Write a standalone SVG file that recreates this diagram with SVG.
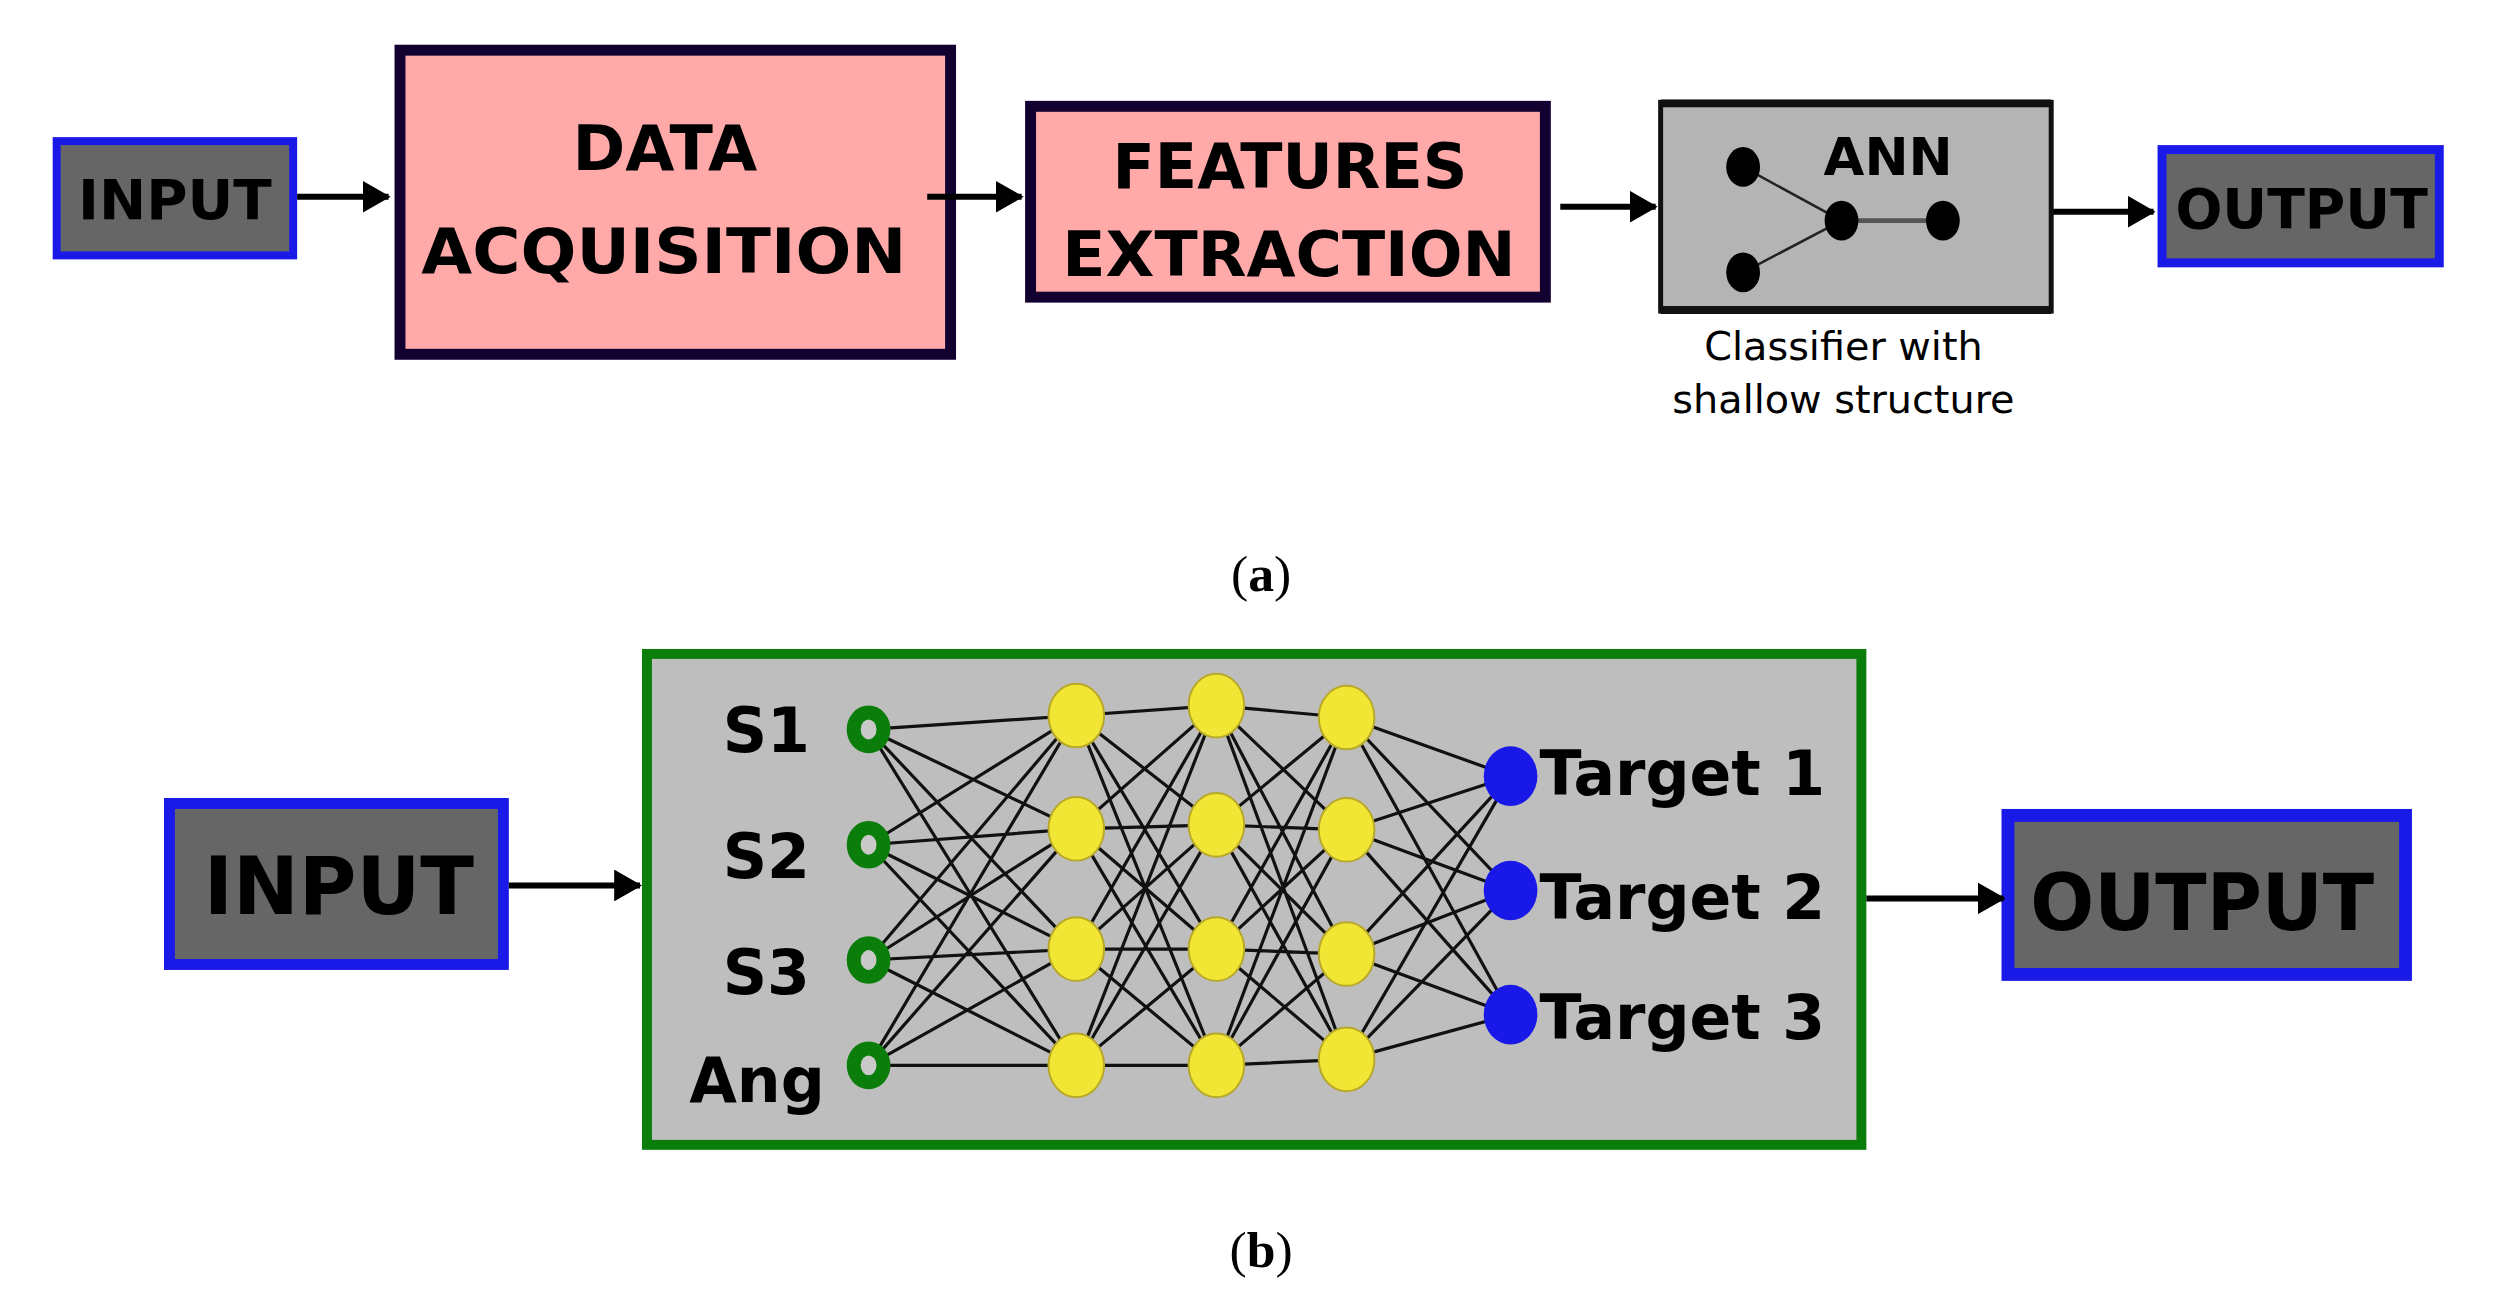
<svg xmlns="http://www.w3.org/2000/svg" width="2496" height="1296" viewBox="0 0 2496 1296">
<defs>
<marker id="ah" markerUnits="userSpaceOnUse" markerWidth="28" markerHeight="32" refX="26" refY="16" orient="auto">
<path d="M0,0 L28,16 L0,32 Z" fill="#000"/>
</marker>
<style>
.io{fill:#666666;stroke:#1a1ae8}
.pink{fill:#ffa9a9;stroke:#120030;stroke-width:11}
.bt{font-family:"DejaVu Sans",Verdana,sans-serif;font-weight:bold;fill:#000}
.nt{font-family:"DejaVu Sans",Verdana,sans-serif;fill:#000}
.cap{font-family:"Liberation Serif",serif;font-size:52px;fill:#000}
.arr{stroke:#000;stroke-width:6;fill:none;marker-end:url(#ah)}
.nn{stroke:#111;stroke-width:3.2;fill:none}
.yel{fill:#f2e634;stroke:#b8a82a;stroke-width:2}
.grn{fill:#c9c9c9;stroke:#0b7d0b;stroke-width:14}
.blu{fill:#1818e8}
</style>
</defs>
<rect width="2496" height="1296" fill="#fff"/>
<g transform="scale(0.9938)">
<!-- (a) row -->
<g id="input-a">
<rect class="io" x="57" y="142" width="238" height="115" stroke-width="8"/>
<text class="bt" x="176" y="220" font-size="56" text-anchor="middle" textLength="195" lengthAdjust="spacingAndGlyphs">INPUT</text>
</g>
<g id="data-acquisition">
<rect class="pink" x="402.5" y="50.5" width="554" height="306"/>
<text class="bt" x="669" y="171" font-size="62" text-anchor="middle" textLength="186" lengthAdjust="spacingAndGlyphs">DATA</text>
<text class="bt" x="668" y="275" font-size="62" text-anchor="middle" textLength="488" lengthAdjust="spacingAndGlyphs">ACQUISITION</text>
</g>
<g id="features-extraction">
<rect class="pink" x="1037" y="107" width="518" height="192" stroke-width="10"/>
<text class="bt" x="1298" y="189" font-size="62" text-anchor="middle" textLength="357" lengthAdjust="spacingAndGlyphs">FEATURES</text>
<text class="bt" x="1297" y="278" font-size="62" text-anchor="middle" textLength="456" lengthAdjust="spacingAndGlyphs">EXTRACTION</text>
</g>
<g id="ann">
<rect x="1671" y="103" width="393" height="210" fill="#b4b4b4" stroke="#111" stroke-width="5"/>
<line x1="1671" y1="104" x2="2064" y2="104" stroke="#111" stroke-width="8"/>
<line x1="1671" y1="312" x2="2064" y2="312" stroke="#111" stroke-width="8"/>
<text class="bt" x="1900" y="176" font-size="52" text-anchor="middle" textLength="130" lengthAdjust="spacingAndGlyphs">ANN</text>
<line x1="1754" y1="168" x2="1853" y2="222" stroke="#222" stroke-width="2.5"/>
<line x1="1754" y1="274" x2="1853" y2="222" stroke="#222" stroke-width="2.5"/>
<line x1="1853" y1="222" x2="1955" y2="222" stroke="#555" stroke-width="5"/>
<ellipse cx="1754" cy="168" rx="17" ry="20" fill="#000"/>
<ellipse cx="1754" cy="274" rx="17" ry="20" fill="#000"/>
<ellipse cx="1853" cy="222" rx="17" ry="20" fill="#000"/>
<ellipse cx="1955" cy="222" rx="17" ry="20" fill="#000"/>
<text class="nt" x="1855" y="362" font-size="40" text-anchor="middle">Classifier with</text>
<text class="nt" x="1855" y="416" font-size="40" text-anchor="middle">shallow structure</text>
</g>
<g id="output-a">
<rect class="io" x="2175.5" y="150.5" width="279" height="114" stroke-width="9"/>
<text class="bt" x="2316" y="229" font-size="56" text-anchor="middle" textLength="254" lengthAdjust="spacingAndGlyphs">OUTPUT</text>
</g>
<text class="cap" x="1269" y="595" text-anchor="middle">(<tspan font-weight="bold">a</tspan>)</text>

<!-- (b) row -->
<g id="input-b">
<rect class="io" x="170.5" y="808.5" width="336" height="162" stroke-width="11"/>
<text class="bt" x="341" y="920" font-size="80" text-anchor="middle" textLength="272" lengthAdjust="spacingAndGlyphs">INPUT</text>
</g>
<g id="network">
<rect x="651" y="658" width="1222" height="494" fill="#bebebe" stroke="#0a7d0a" stroke-width="10"/>
<g class="nn">
<path d="M874 734L1083 720M874 734L1083 834M874 734L1083 955M874 734L1083 1072M874 850L1083 720M874 850L1083 834M874 850L1083 955M874 850L1083 1072M874 966L1083 720M874 966L1083 834M874 966L1083 955M874 966L1083 1072M874 1072L1083 720M874 1072L1083 834M874 1072L1083 955M874 1072L1083 1072"/>
<path d="M1083 720L1224 710M1083 720L1224 830M1083 720L1224 955M1083 720L1224 1072M1083 834L1224 710M1083 834L1224 830M1083 834L1224 955M1083 834L1224 1072M1083 955L1224 710M1083 955L1224 830M1083 955L1224 955M1083 955L1224 1072M1083 1072L1224 710M1083 1072L1224 830M1083 1072L1224 955M1083 1072L1224 1072"/>
<path d="M1224 710L1355 722M1224 710L1355 835M1224 710L1355 960M1224 710L1355 1066M1224 830L1355 722M1224 830L1355 835M1224 830L1355 960M1224 830L1355 1066M1224 955L1355 722M1224 955L1355 835M1224 955L1355 960M1224 955L1355 1066M1224 1072L1355 722M1224 1072L1355 835M1224 1072L1355 960M1224 1072L1355 1066"/>
<path d="M1355 722L1520 781M1355 722L1520 896M1355 722L1520 1021M1355 835L1520 781M1355 835L1520 896M1355 835L1520 1021M1355 960L1520 781M1355 960L1520 896M1355 960L1520 1021M1355 1066L1520 781M1355 1066L1520 896M1355 1066L1520 1021"/>
</g>
<g id="inputs">
<ellipse class="grn" cx="874" cy="734" rx="15" ry="17"/>
<ellipse class="grn" cx="874" cy="850" rx="15" ry="17"/>
<ellipse class="grn" cx="874" cy="966" rx="15" ry="17"/>
<ellipse class="grn" cx="874" cy="1072" rx="15" ry="17"/>
<text class="bt" x="815" y="757" font-size="62" text-anchor="end">S1</text>
<text class="bt" x="815" y="883" font-size="62" text-anchor="end">S2</text>
<text class="bt" x="815" y="1000" font-size="62" text-anchor="end">S3</text>
<text class="bt" x="830" y="1109" font-size="62" text-anchor="end">Ang</text>
</g>
<g id="hidden1">
<ellipse class="yel" cx="1083" cy="720" rx="28" ry="32"/>
<ellipse class="yel" cx="1083" cy="834" rx="28" ry="32"/>
<ellipse class="yel" cx="1083" cy="955" rx="28" ry="32"/>
<ellipse class="yel" cx="1083" cy="1072" rx="28" ry="32"/>
</g>
<g id="hidden2">
<ellipse class="yel" cx="1224" cy="710" rx="28" ry="32"/>
<ellipse class="yel" cx="1224" cy="830" rx="28" ry="32"/>
<ellipse class="yel" cx="1224" cy="955" rx="28" ry="32"/>
<ellipse class="yel" cx="1224" cy="1072" rx="28" ry="32"/>
</g>
<g id="hidden3">
<ellipse class="yel" cx="1355" cy="722" rx="28" ry="32"/>
<ellipse class="yel" cx="1355" cy="835" rx="28" ry="32"/>
<ellipse class="yel" cx="1355" cy="960" rx="28" ry="32"/>
<ellipse class="yel" cx="1355" cy="1066" rx="28" ry="32"/>
</g>
<g id="outputs">
<ellipse class="blu" cx="1520" cy="781" rx="27" ry="30"/>
<ellipse class="blu" cx="1520" cy="896" rx="27" ry="30"/>
<ellipse class="blu" cx="1520" cy="1021" rx="27" ry="30"/>
<text class="bt" x="1549" y="800" font-size="62">Target 1</text>
<text class="bt" x="1549" y="925" font-size="62">Target 2</text>
<text class="bt" x="1549" y="1045" font-size="62">Target 3</text>
</g>
</g>
<g id="output-b">
<rect class="io" x="2020.5" y="820.5" width="400" height="160" stroke-width="13"/>
<text class="bt" x="2216" y="936" font-size="78" text-anchor="middle" textLength="346" lengthAdjust="spacingAndGlyphs">OUTPUT</text>
</g>
<text class="cap" x="1269" y="1275" text-anchor="middle">(<tspan font-weight="bold">b</tspan>)</text>

<g id="connectors">
<line class="arr" x1="299" y1="198" x2="391" y2="198"/>
<line class="arr" x1="933" y1="198" x2="1028" y2="198"/>
<line class="arr" x1="1570" y1="208" x2="1666" y2="208"/>
<line class="arr" x1="2066" y1="213" x2="2167" y2="213"/>
<line class="arr" x1="512" y1="891" x2="644" y2="891"/>
<line class="arr" x1="1878" y1="904" x2="2016" y2="904"/>
</g>
</g>
</svg>
